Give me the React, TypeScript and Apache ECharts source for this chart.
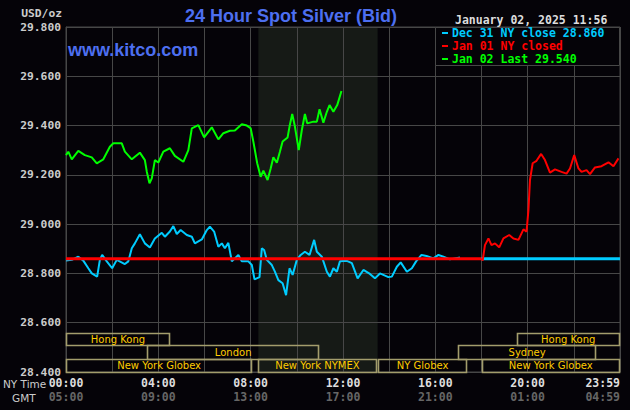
import React, { useEffect, useRef } from "react";
import * as echarts from "echarts";

// ---- data (minutes after NY midnight, price USD/oz) ----
const yMin = 28.4;
const yMax = 29.8;
const yStep = 0.2;
const xMax = 1440;
const xStep = 120;

const dec31Close = 28.86;
const closeStart = 1080; // 18:00

const dec31: [number, number][] = [
  [0, 28.852], [15, 28.855], [32, 28.868], [45, 28.852], [58, 28.821], [67, 28.8], [81, 28.787], [88, 28.855],
  [94, 28.875], [106, 28.849], [120, 28.821], [132, 28.855], [153, 28.838], [162, 28.849], [171, 28.902],
  [179, 28.922], [192, 28.959], [205, 28.922], [218, 28.905], [231, 28.942], [249, 28.965], [257, 28.949],
  [270, 28.97], [279, 28.992], [288, 28.96], [298, 28.976], [314, 28.956], [327, 28.949], [335, 28.922],
  [353, 28.938], [366, 28.976], [374, 28.99], [385, 28.97], [396, 28.908], [405, 28.922], [413, 28.902],
  [422, 28.924], [431, 28.849], [435, 28.855], [448, 28.875], [457, 28.849], [474, 28.849], [483, 28.834],
  [490, 28.776], [503, 28.785], [509, 28.902], [515, 28.895], [522, 28.855], [535, 28.834], [543, 28.807],
  [552, 28.773], [563, 28.76], [572, 28.712], [581, 28.821], [589, 28.794], [600, 28.855], [610, 28.875],
  [621, 28.888], [633, 28.875], [645, 28.936], [652, 28.888], [665, 28.868], [678, 28.807], [686, 28.787],
  [695, 28.821], [704, 28.807], [712, 28.849], [730, 28.851], [743, 28.842], [758, 28.78], [773, 28.814],
  [790, 28.798], [803, 28.78], [816, 28.8], [838, 28.785], [847, 28.787], [860, 28.827], [870, 28.845],
  [886, 28.807], [899, 28.821], [910, 28.849], [924, 28.875], [937, 28.871], [955, 28.861], [968, 28.875],
  [981, 28.868], [998, 28.857], [1024, 28.865],
];

const jan01: [number, number][] = [
  [1080, 28.861], [1083, 28.852], [1089, 28.915], [1098, 28.942], [1106, 28.915], [1115, 28.922], [1126, 28.906],
  [1137, 28.942], [1152, 28.956], [1163, 28.942], [1176, 28.936], [1189, 28.979], [1197, 28.969], [1202, 29.057],
  [1206, 29.179], [1213, 29.247], [1223, 29.257], [1235, 29.285], [1245, 29.26], [1258, 29.209], [1271, 29.222],
  [1288, 29.212], [1301, 29.205], [1310, 29.226], [1321, 29.28], [1332, 29.226], [1340, 29.212], [1353, 29.219],
  [1362, 29.203], [1375, 29.23], [1392, 29.235], [1410, 29.251], [1423, 29.235], [1436, 29.267],
];

const jan02: [number, number][] = [
  [0, 29.28], [6, 29.294], [15, 29.263], [32, 29.297], [49, 29.28], [67, 29.271], [80, 29.247], [97, 29.263],
  [114, 29.314], [123, 29.328], [145, 29.328], [153, 29.294], [171, 29.263], [192, 29.29], [205, 29.26],
  [210, 29.213], [217, 29.166], [223, 29.186], [231, 29.26], [240, 29.25], [253, 29.294], [270, 29.308],
  [283, 29.277], [305, 29.253], [318, 29.3], [327, 29.389], [344, 29.402], [359, 29.352], [379, 29.393],
  [396, 29.344], [409, 29.369], [426, 29.379], [439, 29.38], [457, 29.405], [470, 29.4], [480, 29.389],
  [487, 29.335], [497, 29.247], [506, 29.192], [513, 29.217], [524, 29.179], [532, 29.226], [539, 29.271],
  [548, 29.249], [556, 29.294], [563, 29.335], [576, 29.352], [581, 29.396], [588, 29.447], [595, 29.396],
  [605, 29.3], [613, 29.382], [621, 29.447], [627, 29.409], [643, 29.416], [652, 29.416], [659, 29.466],
  [669, 29.412], [678, 29.456], [685, 29.483], [695, 29.456], [705, 29.483], [716, 29.54],
];

const nymexWindow: [number, number] = [500, 810];

const sessionRows: [number, number][] = [
  [28.4, 28.454],
  [28.454, 28.508],
  [28.508, 28.56],
];

const sessionNames = ["Hong Kong", "London", "New York Globex", "New York NYMEX", "NY Globex", "New York Globex", "Sydney", "Hong Kong"];
const sessionStart = [0, 211, 0, 499, 812, 1080, 1020, 1171];
const sessionEnd = [270, 658, 484, 808, 1042, 1440, 1377, 1440];
const sessionRow = [2, 1, 0, 0, 0, 0, 1, 2];

const legendLabels = ["Dec 31 NY close 28.860", "Jan 01 NY closed", "Jan 02 Last 29.540"];
const legendColors = ["#00ccff", "#ff0000", "#00ff00"];

const titleText = "24 Hour Spot Silver (Bid)";
const dateText = "January 02, 2025 11:56";
const gmtOffset = 5;

const BG = "#050308";
const GRID = "#474747";
const MONO = "'DejaVu Sans Mono', monospace";
const SANS = "'Liberation Sans', Arial, sans-serif";

function pad(n: number) {
  return (n < 10 ? "0" : "") + n;
}

export default function App() {
  const ref = useRef<HTMLDivElement>(null);

  useEffect(() => {
    if (!ref.current) return;
    const chart = echarts.init(ref.current, null, { renderer: "svg" });

    const sessionData = sessionNames.map((_, i) => [
      sessionStart[i],
      sessionEnd[i],
      sessionRows[sessionRow[i]][0],
      sessionRows[sessionRow[i]][1],
    ]);

    const legendY = [33, 46, 59];

    const option: any = {
      animation: false,
      backgroundColor: BG,
      grid: {
        left: 66,
        right: 10,
        top: 27,
        bottom: 38,
        show: true,
        borderColor: GRID,
        borderWidth: 1,
        backgroundColor: "transparent",
      },
      xAxis: {
        type: "value",
        min: 0,
        max: xMax,
        interval: xStep,
        axisLine: { show: true, lineStyle: { color: GRID } },
        axisTick: { show: false },
        splitLine: { show: true, lineStyle: { color: GRID, width: 1 } },
        axisLabel: {
          margin: 4,
          alignMaxLabel: "right",
          showMaxLabel: true,
          showMinLabel: true,
          formatter: (v: number) => {
            if (v === xMax) return "{a|23:59}\n{b|" + pad((23 + gmtOffset) % 24) + ":59}";
            if (v % 240 !== 0) return "";
            const h = v / 60;
            return "{a|" + pad(h) + ":00}\n{b|" + pad((h + gmtOffset) % 24) + ":00}";
          },
          rich: {
            a: { color: "#dddddd", fontFamily: MONO, fontWeight: "bold", fontSize: 11.5, lineHeight: 14 },
            b: { color: "#666666", fontFamily: MONO, fontWeight: "bold", fontSize: 11.5, lineHeight: 14 },
          },
        },
      },
      yAxis: {
        type: "value",
        min: yMin,
        max: yMax,
        interval: yStep,
        axisLine: { show: true, lineStyle: { color: GRID } },
        axisTick: { show: false },
        splitLine: { show: true, lineStyle: { color: GRID, width: 1 } },
        axisLabel: {
          margin: 5,
          color: "#cccccc",
          fontFamily: MONO,
          fontWeight: "bold",
          fontSize: 11.3,
          formatter: (v: number) => v.toFixed(3),
        },
      },
      series: [
        {
          type: "custom",
          z: -5,
          silent: true,
          data: [[nymexWindow[0], nymexWindow[1], yMin, yMax]],
          encode: { x: [0, 1], y: [2, 3] },
          renderItem: (params: any, api: any) => {
            const p1 = api.coord([api.value(0), api.value(3)]);
            const p2 = api.coord([api.value(1), api.value(2)]);
            return {
              type: "rect",
              shape: { x: p1[0], y: p1[1], width: p2[0] - p1[0], height: p2[1] - p1[1] },
              style: { fill: "#161a16" },
            };
          },
        },
        {
          type: "custom",
          silent: true,
          data: sessionData,
          encode: { x: [0, 1], y: [2, 3] },
          renderItem: (params: any, api: any) => {
            const p1 = api.coord([api.value(0), api.value(3)]);
            const p2 = api.coord([api.value(1), api.value(2)]);
            const x = Math.round(p1[0]) + 0.5;
            const y = Math.round(p1[1]) + 0.5;
            const w = Math.round(p2[0]) - Math.round(p1[0]) - 1;
            const h = Math.round(p2[1]) - Math.round(p1[1]);
            return {
              type: "group",
              children: [
                {
                  type: "rect",
                  shape: { x, y, width: w, height: h },
                  style: { fill: "none", stroke: "#a39d6c", lineWidth: 1.6 },
                },
                {
                  type: "text",
                  style: {
                    text: sessionNames[params.dataIndex],
                    x: (p1[0] + p2[0]) / 2,
                    y: (p1[1] + p2[1]) / 2 + 0.5,
                    align: "center",
                    verticalAlign: "middle",
                    fill: "#ffcc00",
                    font: "10px 'DejaVu Sans', sans-serif",
                  },
                },
              ],
            };
          },
        },
        {
          name: "Dec 31",
          type: "line",
          data: dec31,
          showSymbol: false,
          lineStyle: { color: "#00ccff", width: 2 },
          itemStyle: { color: "#00ccff" },
        },
        {
          name: "Dec 31 close before",
          type: "line",
          data: [[0, dec31Close], [closeStart, dec31Close]],
          showSymbol: false,
          lineStyle: { color: "#ff0000", width: 3 },
        },
        {
          name: "Dec 31 close",
          type: "line",
          data: [[closeStart, dec31Close], [xMax, dec31Close]],
          showSymbol: false,
          lineStyle: { color: "#00ccff", width: 3 },
        },
        {
          name: "Jan 01",
          type: "line",
          data: jan01,
          showSymbol: false,
          lineStyle: { color: "#ff0000", width: 2 },
        },
        {
          name: "Jan 02",
          type: "line",
          data: jan02,
          showSymbol: false,
          lineStyle: { color: "#00ff00", width: 2 },
        },
      ],
      graphic: [
        {
          type: "text",
          z: 10,
          style: { text: "USD/oz", x: 62, y: 13, align: "right", verticalAlign: "middle", fill: "#cccccc", font: "bold 11.3px " + MONO },
        },
        {
          type: "text",
          z: 10,
          style: { text: titleText, x: 291, y: 16, align: "center", verticalAlign: "middle", fill: "#4d6ff0", font: "bold 18px " + SANS },
        },
        {
          type: "text",
          z: 10,
          style: { text: "www.kitco.com", x: 68, y: 50, align: "left", verticalAlign: "middle", fill: "#4d6ff0", font: "bold 18px " + SANS },
        },
        {
          type: "text",
          z: 10,
          style: { text: dateText, x: 455, y: 20, align: "left", verticalAlign: "middle", fill: "#dddddd", font: "bold 11.5px " + MONO },
        },
        {
          type: "rect",
          z: 10,
          shape: { x: 435.5, y: 27.5, width: 184, height: 38 },
          style: { fill: BG, stroke: GRID, lineWidth: 1 },
        },
        ...legendLabels.flatMap((t, i) => [
          {
            type: "rect",
            z: 11,
            shape: { x: 442, y: legendY[i] - 1, width: 6, height: 2 },
            style: { fill: legendColors[i] },
          },
          {
            type: "text",
            z: 11,
            style: { text: t, x: 452, y: legendY[i], align: "left", verticalAlign: "middle", fill: legendColors[i], font: "bold 11.5px " + MONO },
          },
        ]),
        {
          type: "text",
          z: 10,
          style: { text: "NY Time", x: 3, y: 384, align: "left", verticalAlign: "middle", fill: "#cccccc", font: "10.5px 'DejaVu Sans', sans-serif" },
        },
        {
          type: "text",
          z: 10,
          style: { text: "GMT", x: 12, y: 398, align: "left", verticalAlign: "middle", fill: "#cccccc", font: "10.5px 'DejaVu Sans', sans-serif" },
        },
      ],
    };

    chart.setOption(option);
    return () => chart.dispose();
  }, []);

  return <div ref={ref} style={{ width: 630, height: 410, position: "absolute", left: 0, top: 0 }} />;
}
